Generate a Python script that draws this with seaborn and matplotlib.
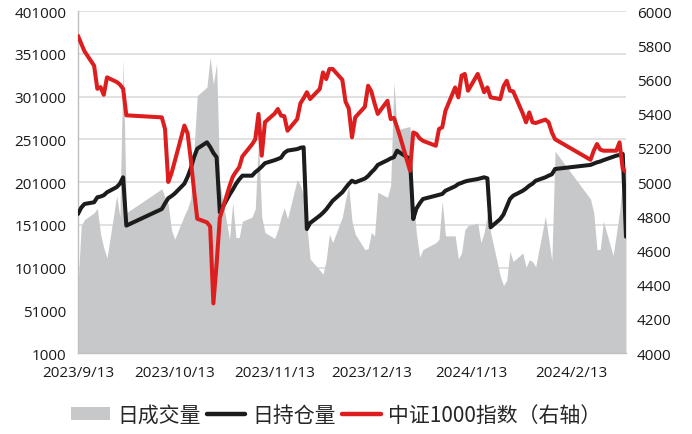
import numpy as np
import pandas as pd
import matplotlib
matplotlib.use("Agg")
import matplotlib.pyplot as plt
import seaborn as sns
from matplotlib.patches import Patch
from matplotlib.lines import Line2D

# trading days 2023/9/13 - 2024/3/1 (exchange holidays removed)
holidays = ["2023-09-29", "2023-10-02", "2023-10-03", "2023-10-04", "2023-10-05",
            "2023-10-06", "2024-01-01", "2024-02-09", "2024-02-12", "2024-02-13",
            "2024-02-14", "2024-02-15", "2024-02-16"]
dates = pd.bdate_range("2023-09-13", "2024-03-01", freq="C", holidays=holidays)

# 日成交量
volume = [
    79700, 150000, 157000, 165000, 170000, 140000, 124000, 112000, 185000, 160000, 345000, 165000,
    193000, 183000, 175000, 145000, 134000, 162000, 170000, 182000, 240000, 302000, 312000, 347000,
    315000, 340000, 200000, 134000, 177000,
    136000, 136000, 155000, 160000, 170000, 250000, 160000, 142000, 135000, 145000, 160000, 171000,
    158000, 204000, 197000, 185000, 150000, 111000, 98000, 93000, 110000, 140000,
    130000, 160000, 180000, 196000, 155000, 140000, 122000, 123000, 142000, 138000, 189000, 183000,
    197000, 318000, 263000, 263000, 266000, 180000, 140000, 113000, 122000,
    130000, 134000, 179000, 138000, 138000, 111000, 118000, 145000, 150000, 153000, 130000, 142000,
    163000, 142000, 91000, 80000, 86000, 120000, 108000, 118000, 101000, 110000,
    108000, 102000, 161000, 135000, 109000, 237000, 181000, 165000, 122000, 122000, 155000, 115000,
    140000, 166000, 205000,
    220000,
]

# 日持仓量
holding = [
    163600, 171000, 175300, 177300, 183100, 184000, 185500, 189000, 195000, 199000, 206500, 150000,
    169400, 176000, 182000, 184500, 187500, 199000, 207000, 217000, 230000, 240000, 247400, 242000,
    235000, 230000, 165500, 186000, 192000,
    198700, 204000, 208400, 208400, 212500, 215500, 219000, 223000, 226500, 227900, 229500, 235000,
    237700, 239500, 241000, 241600, 146000, 153000, 161600, 165000, 169000, 174000,
    179000, 189000, 194000, 198700, 202500, 200600, 205000, 208000, 212300, 216000, 221000, 226500,
    228600, 230000, 237700, 235000, 227900, 157700, 170000, 176000, 181100,
    185000, 186000, 187000, 190800, 196000, 198700, 200000, 201500, 202500, 204500, 205500, 206500,
    205300, 148000, 157700, 163000, 172000, 181100, 185000, 190800, 193500, 196700,
    199000, 202500, 206500, 208400, 210000, 216200, 221000, 222500, 224000, 225000, 226500, 230500,
    231800, 232600, 233800,
    137000,
]

# 中证1000指数
index_close = [
    5855, 5810, 5765, 5680, 5545, 5555, 5510, 5612, 5585, 5570, 5545, 5390,
    5378, 5310, 5000, 5050, 5120, 5330, 5285, 5130, 4950, 4785, 4764, 4740, 4290, 4520, 4790, 4975, 5030,
    5060, 5086, 5150, 5220, 5250, 5398, 5154, 5350, 5400, 5427, 5388, 5385, 5300, 5368, 5460, 5490,
    5525, 5485, 5544, 5641, 5602, 5661,
    5661, 5598, 5470, 5430, 5261, 5378, 5440, 5563, 5530, 5460, 5398, 5475, 5368, 5375, 5320, 5260,
    5066, 5290, 5281, 5255, 5241,
    5212, 5310, 5320, 5417, 5553, 5495, 5622, 5632, 5534, 5632, 5580, 5525, 5553, 5495, 5485, 5560,
    5592, 5534, 5530, 5400, 5349, 5407,
    5349, 5345, 5365, 5349, 5290, 5250, 5130, 5183, 5222, 5190, 5183, 5183, 5183, 5232, 5076,
    5060,
]

xtick_dates = ["2023-09-13", "2023-10-13", "2023-11-13", "2023-12-13", "2024-01-13", "2024-02-13"]
xtick_labels = ["2023/9/13", "2023/10/13", "2023/11/13", "2023/12/13", "2024/1/13", "2024/2/13"]
left_ticks = list(range(1000, 401001, 50000))
right_ticks = list(range(4000, 6001, 200))

df = pd.DataFrame({"date": dates, "volume": volume, "holding": holding, "index": index_close})

sns.set_theme(style="white")
plt.rcParams["font.family"] = ["Open Sans", "Noto Sans CJK SC", "DejaVu Sans"]

gray = "#c7c8ca"
black = "#1c1c1c"
red = "#dc1e1e"

fig = plt.figure(figsize=(6.92, 4.35), dpi=100)
ax = fig.add_axes([0.1127, 0.1862, 0.7919, 0.7862])

ax.fill_between(df["date"], df["volume"], 1000, color=gray, lw=0, zorder=2)
sns.lineplot(data=df, x="date", y="holding", ax=ax, color=black, lw=2.9, legend=False, zorder=3)

ax.set_ylim(1000, 401000)
ax.set_yticks(left_ticks)
ax.set_yticklabels([str(v) for v in left_ticks])
ax.set_xlim(pd.Timestamp("2023-09-13"), pd.Timestamp("2024-03-01"))
ax.set_xticks(pd.to_datetime(xtick_dates))
ax.set_xticklabels(xtick_labels)
ax.yaxis.grid(True, color="#d9d9d9", lw=1.1)
ax.set_axisbelow(True)
ax.set_xlabel("")
ax.set_ylabel("")
for s in ["top", "right"]:
    ax.spines[s].set_visible(False)
for s in ["left", "bottom"]:
    ax.spines[s].set_color("#bfbfbf")
    ax.spines[s].set_linewidth(1.0)
ax.tick_params(axis="y", length=0, pad=8.5, labelsize=11, labelcolor="#1a1a1a")
ax.tick_params(axis="x", length=3.5, width=1, color="#bfbfbf", pad=5, labelsize=11, labelcolor="#1a1a1a")

ax2 = ax.twinx()
sns.lineplot(data=df, x="date", y="index", ax=ax2, color=red, lw=2.9, legend=False)
ax2.set_ylim(4000, 6000)
ax2.set_yticks(right_ticks)
ax2.set_yticklabels([str(v) for v in right_ticks])
ax2.set_ylabel("")
for s in ax2.spines.values():
    s.set_visible(False)
ax2.tick_params(axis="y", length=0, pad=8, labelsize=11, labelcolor="#1a1a1a")
ax2.set_xlim(pd.Timestamp("2023-09-13"), pd.Timestamp("2024-03-01"))

handles = [Patch(facecolor=gray, edgecolor="none"),
           Line2D([0], [0], color=black, lw=3.2),
           Line2D([0], [0], color=red, lw=3.2)]
labels = ["日成交量", "日持仓量", "中证1000指数（右轴）"]
fig.legend(handles, labels, loc="center", bbox_to_anchor=(0.486, 0.044), ncol=3, frameon=False,
           handlelength=1.85, handleheight=0.55, handletextpad=0.35, columnspacing=0.3,
           prop={"family": ["Noto Sans CJK SC", "DejaVu Sans"], "size": 15})

fig.savefig("out.png", dpi=100)
